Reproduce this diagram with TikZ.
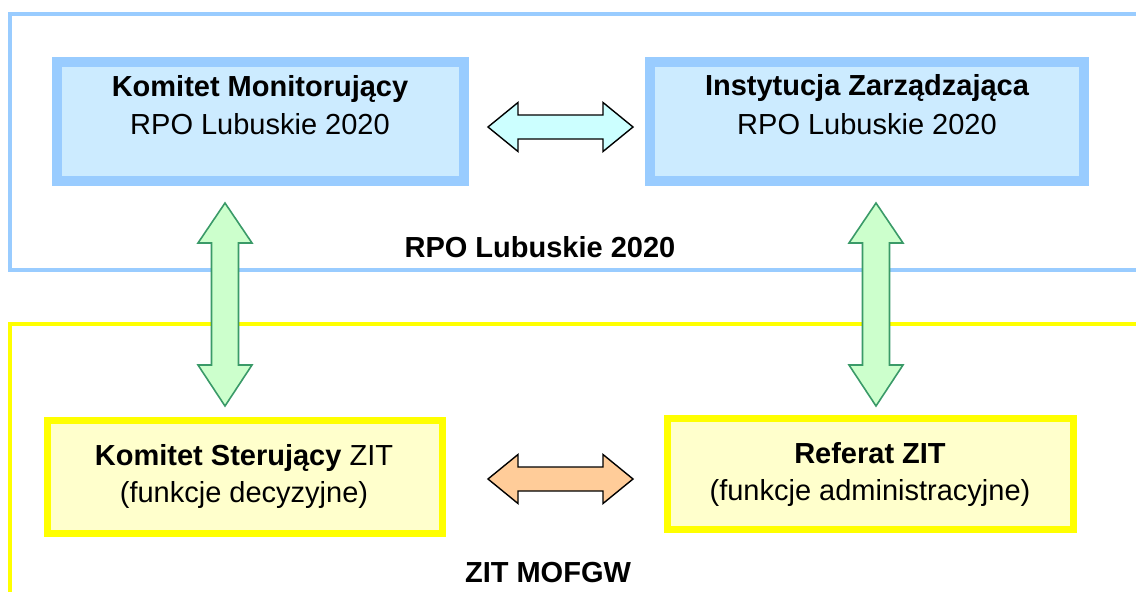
\documentclass[tikz,border=0pt]{standalone}
\usepackage{fontspec}
\setmainfont{Liberation Sans}
\usetikzlibrary{calc}
\definecolor{frameblue}{HTML}{99CCFF}
\definecolor{boxblue}{HTML}{CCEBFF}
\definecolor{frameyellow}{HTML}{FFFF00}
\definecolor{boxyellow}{HTML}{FFFFCC}
\definecolor{arrowcyan}{HTML}{CCFFFF}
\definecolor{arrowgreen}{HTML}{CCFFCC}
\definecolor{arrowgreenline}{HTML}{3A9A68}
\definecolor{arroworange}{HTML}{FFCC99}
\tikzset{
  frameB/.style={draw=frameblue, line width=4pt},
  frameY/.style={draw=frameyellow, line width=4pt},
  bluebox/.style={rectangle, draw=frameblue, fill=boxblue, line width=10pt, inner sep=0pt},
  yellowbox/.style={rectangle, draw=frameyellow, fill=boxyellow, line width=7pt, inner sep=0pt},
  txt/.style={anchor=base, inner sep=0pt, font=\fontsize{29}{35}\selectfont},
  btxt/.style={txt, font=\fontsize{29}{35}\selectfont\bfseries},
  cyanarrow/.style={draw=black, fill=arrowcyan, line width=1.4pt, line join=miter},
  orangearrow/.style={draw=black, fill=arroworange, line width=1.4pt, line join=miter},
  greenarrow/.style={draw=arrowgreenline, fill=arrowgreen, line width=1.6pt, line join=miter}
}
\newcommand\hdarrow[3]{%
  \draw[#1] let \p1=(#2), \p2=(#3) in
    (\x1,\y1) -- (\x1+30pt,\y1+24.5pt) -- (\x1+30pt,\y1+12pt) -- (\x2-30pt,\y2+12pt)
    -- (\x2-30pt,\y2+24.5pt) -- (\x2,\y2) -- (\x2-30pt,\y2-24.5pt) -- (\x2-30pt,\y2-12pt)
    -- (\x1+30pt,\y1-12pt) -- (\x1+30pt,\y1-24.5pt) -- cycle;}
\newcommand\vdarrow[3]{%
  \draw[#1] let \p1=(#2), \p2=(#3) in
    (\x1,\y1) -- (\x1+27pt,\y1-40pt) -- (\x1+13.5pt,\y1-40pt) -- (\x2+13.5pt,\y2+41pt)
    -- (\x2+27pt,\y2+41pt) -- (\x2,\y2) -- (\x2-27pt,\y2+41pt) -- (\x2-13.5pt,\y2+41pt)
    -- (\x1-13.5pt,\y1-40pt) -- (\x1-27pt,\y1-40pt) -- cycle;}
\begin{document}
\begin{tikzpicture}[x=1pt,y=-1pt]
\useasboundingbox (0,0) rectangle (1136,592);
\clip (0,0) rectangle (1136,592);
% frames
\draw[frameB] (1145,14) -- (10,14) -- (10,270) -- (1145,270);
\draw[frameY] (1145,324) -- (10,324) -- (10,600);
% boxes
\node[bluebox, minimum width=407pt, minimum height=119pt] (kmo) at (260.5,121.5) {};
\node[bluebox, minimum width=434pt, minimum height=119pt] (iz) at (867,121.5) {};
\node[yellowbox, minimum width=395pt, minimum height=113pt] (ks) at (245,477) {};
\node[yellowbox, minimum width=406pt, minimum height=111pt] (rz) at (870.5,474) {};
% texts
\node[btxt] (kmoA) at (260,96) {Komitet Monitorujący};
\node[txt] (kmoB) at (260,134.5) {RPO Lubuskie 2020};
\node[btxt] (izA) at (867,95.5) {Instytucja Zarządzająca};
\node[txt] (izB) at (867,134) {RPO Lubuskie 2020};
\node[txt] (ksA) at (244,465) {\textbf{Komitet Sterujący} ZIT};
\node[txt] (ksB) at (244,502) {(funkcje decyzyjne)};
\node[btxt] (rzA) at (870,463) {Referat ZIT};
\node[txt] (rzB) at (870,500) {(funkcje administracyjne)};
\node[btxt] (lblRPO) at (540,257) {RPO Lubuskie 2020};
\node[btxt] (lblZIT) at (548,582) {ZIT MOFGW};
% arrow end points
\coordinate (t1) at ($(kmo.east)+(19,5.5)$);
\coordinate (t2) at ($(iz.west)+(-12,5.5)$);
\coordinate (b1) at ($(ks.east)+(42,2)$);
\coordinate (b2) at ($(rz.west)+(-31,5)$);
\coordinate (l1) at ($(kmo.south)+(-35.5,17)$);
\coordinate (l2) at ($(ks.north)+(-20,-11)$);
\coordinate (r1) at ($(iz.south)+(9,17)$);
\coordinate (r2) at ($(rz.north)+(5.5,-9)$);
% arrows
\hdarrow{cyanarrow}{t1}{t2}
\hdarrow{orangearrow}{b1}{b2}
\vdarrow{greenarrow}{l1}{l2}
\vdarrow{greenarrow}{r1}{r2}
\end{tikzpicture}
\end{document}
